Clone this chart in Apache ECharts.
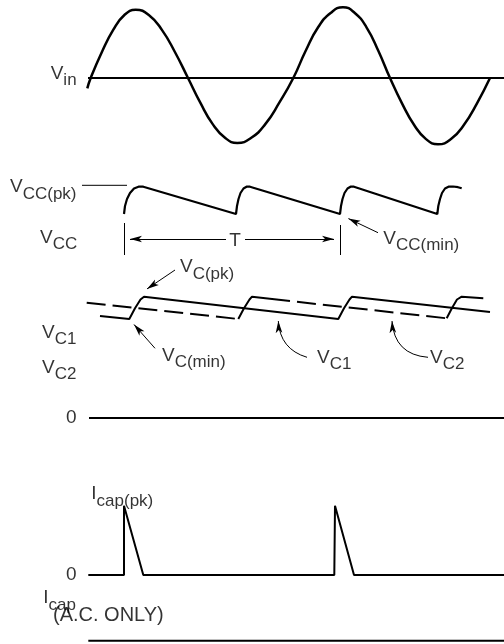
<!DOCTYPE html>
<html><head><meta charset="utf-8">
<script src="https://cdn.jsdelivr.net/npm/echarts@6/dist/echarts.min.js"></script>
<style>html,body{margin:0;padding:0;background:#fff}#c{width:504px;height:644px}</style>
</head><body><div id="c"></div>
<script>
// ---- data (x = time, arbitrary units across the diagram) ----
// Panel 1: input sine (normalised volts)
const vinWave = [[87.3,-0.16],[90.7,0],[101.9,0.40],[113.2,0.74],[124.4,0.97],[135.7,1.05],[148.8,0.97],[161.9,0.74],[174.9,0.40],[188,0],[200.3,-0.38],[212.7,-0.71],[225,-0.92],[237.3,-1.0],[251.3,-0.92],[265.3,-0.71],[279.3,-0.38],[293.3,0],[305.7,0.42],[318.1,0.78],[330.6,1.0],[343,1.09],[354.8,1.0],[366.5,0.78],[378.3,0.42],[390,0],[402,-0.39],[414,-0.72],[426,-0.94],[438,-1.02],[451,-0.94],[464,-0.72],[477,-0.39],[490,0]];
const vinZero = [[88,0],[504,0]];
// Panel 2: VCC ripple
const vccWave = [[124,46],[125,54],[127,61],[130,67],[134,71.5],[138.5,73.3],[143.3,73.3],
  [236,46],[237,54],[238.5,61],[240.5,67],[243.5,71.5],[246.5,73.3],[250,73.3],
  [340,46],[341,54],[342.5,61],[344.5,67],[347.5,71.5],[350.5,73.3],[354,73.3],
  [437.3,46],[438.3,54],[440,61],[442,67],[445,71.5],[448.5,73.3],[453,73.5],[458,72.8],[461.7,71.7]];
const vccPeakRef = [[82,74.7],[127,74.7]];
const periodMarks = [[[124,37],[124,5]],[[340,35],[340,5]]];
const periodArrows = [[[226,21],[130,21]],[[245,21],[334,21]]];
const vccMinPointer = [[[378,27.3],[348.4,41.4]]];
// Panel 3: capacitor voltages
const vc1Wave = [[100,102],[129.3,99],[135,109.7],[140.5,118.5],[144,121.3],[338.3,99],[344,109.7],[349.5,118.5],[352,121.3],[490,106]];
const vc2Dashed = [[[86.7,115.3],[238.3,99]],[[297,116.2],[446.7,99.7]]];
const vc2Solid = [[[238.3,99],[244,109.7],[249.5,118.5],[252,121.3],[290,117]],[[446.7,99.7],[452,110],[457,118.5],[461.7,121.3],[483.3,119.7]]];
const vcZero = [[89,0],[504,0]];
const vcPointers = [[[175,148],[147,129.1]],[[155,69.7],[134,93.5]]];
const vcCurvedPointers = [[[307,60.7],[278.3,97]],[[428,60.7],[392,97]]];
const vcCurveness = [0.35,0.43];
// Panel 4: capacitor current
const icapWave = [[88.3,0],[124,0],[124,70],[143.3,0],[334.3,0],[335,70],[354,0],[504,0]];
const icapAcBase = [[88.3,-66.7],[504,-66.7]];
// labels: [main, subscript, x, y]
const labelsVin = [['V','in',50.7,0.066]];
const labelsVcc = [['V','CC(pk)',10,73],['V','CC',40,22.5],['V','CC(min)',383.3,21.7]];
const labelsVc = [['V','C(pk)',180,150.8],['V','C(min)',162,62.7],['V','C1',317,60.5],['V','C2',430,60.5],['V','C1',42,85.5],['V','C2',42,50.5]];
const labelsIcap = [['I','cap(pk)',91.3,82],['I','cap',43.3,-23.5]];
// plain labels: [text, x, y, align, style]
const plainVcc = [['T',235,19.7,'center','p']];
const plainVc = [['0',66,0,'left','p']];
const plainIcap = [['0',66,0,'left','p'],['(A.C. ONLY)',53,-41.5,'left','q']];

// ---- chart ----
const FF = '"Liberation Sans", Arial, Helvetica, sans-serif';
const rich = {
  m:{fontSize:19,lineHeight:19,fontFamily:FF,color:'#000'},
  s:{fontSize:17,lineHeight:17,padding:[14,0,0,0],fontFamily:FF,color:'#000'},
  p:{fontSize:19,lineHeight:19,fontFamily:FF,color:'#000'},
  q:{fontSize:20,lineHeight:20,fontFamily:FF,color:'#000'}
};
function line(i,data,width,extra){
  return Object.assign({type:'line',xAxisIndex:i,yAxisIndex:i,data:data,symbol:'none',showSymbol:false,clip:false,silent:true,
    lineStyle:Object.assign({color:'#000',width:width},extra&&extra.lineStyle||{})}, extra&&extra.opts||{});
}
function lines(i,segs,width,arrow,curv){
  return {type:'lines',coordinateSystem:'cartesian2d',xAxisIndex:i,yAxisIndex:i,silent:true,
    data:segs.map((c,k)=>({coords:c,lineStyle:curv?{curveness:curv[k]}:{}})),
    color:'#000',itemStyle:{color:'#000'},
    lineStyle:{color:'#000',width:width,opacity:1,curveness:0},
    symbol:arrow?['none','arrow']:['none','none'],symbolSize:[[0,0],[5,12]]};
}
function labels(i,subs,plains){
  const data=[];
  subs.forEach(l=>data.push({value:[l[2],l[3]],label:{formatter:'{m|'+l[0]+'}{s|'+l[1]+'}'}}));
  (plains||[]).forEach(l=>data.push({value:[l[1],l[2]],label:{formatter:'{'+l[4]+'|'+l[0]+'}',align:l[3]}}));
  return {type:'scatter',xAxisIndex:i,yAxisIndex:i,symbolSize:0,silent:true,clip:false,data:data,
    label:{show:true,position:[0,0],align:'left',verticalAlign:'middle',rich:rich},z:10};
}
const grids=[{top:0,height:156},{top:160,height:100},{top:250,height:168},{top:490,height:156}];
const yr=[[-1.2,1.2],[0,100],[0,168],[-70,86]];
const chart = echarts.init(document.getElementById('c'),null,{renderer:'canvas'});
const series=[
  line(0,vinWave,2.5,{opts:{smooth:true}}),
  line(0,vinZero,2),
  line(1,vccWave,2.2),
  line(1,vccPeakRef,1),
  lines(1,periodMarks,1,false),
  lines(1,periodArrows,1,true),
  lines(1,vccMinPointer,1,true),
  line(2,vc1Wave,2),
  line(2,vcZero,2),
  lines(2,vcPointers,1,true),
  lines(2,vcCurvedPointers,1,true,vcCurveness),
  line(3,icapWave,2),
  line(3,icapAcBase,2),
  labels(0,labelsVin),
  labels(1,labelsVcc,plainVcc),
  labels(2,labelsVc,plainVc),
  labels(3,labelsIcap,plainIcap)
];
vc2Dashed.forEach(d=>series.push(line(2,d,2,{lineStyle:{type:[19,7]}})));
vc2Solid.forEach(d=>series.push(line(2,d,2)));
chart.setOption({
  animation:false,
  backgroundColor:'#fff',
  grid:grids.map(g=>({left:0,right:0,top:g.top,height:g.height,containLabel:false})),
  xAxis:grids.map((g,i)=>({type:'value',gridIndex:i,min:0,max:504,show:false})),
  yAxis:grids.map((g,i)=>({type:'value',gridIndex:i,min:yr[i][0],max:yr[i][1],show:false})),
  series:series
});
</script></body></html>
